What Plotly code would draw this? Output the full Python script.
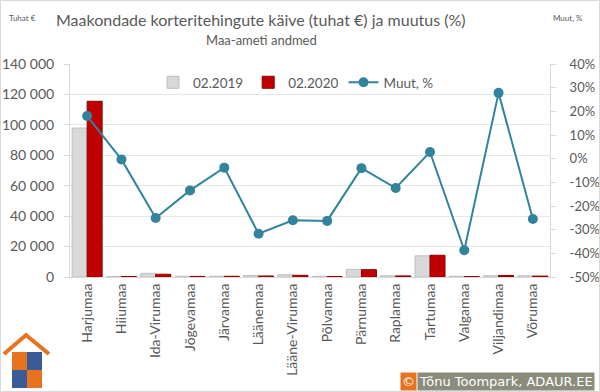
import plotly.graph_objects as go

categories = ["Harjumaa", "Hiiumaa", "Ida-Virumaa", "Jõgevamaa", "Järvamaa", "Läänemaa",
              "Lääne-Virumaa", "Põlvamaa", "Pärnumaa", "Raplamaa", "Tartumaa", "Valgamaa",
              "Viljandimaa", "Võrumaa"]
v2019 = [97900, 300, 2400, 450, 500, 1000, 1500, 380, 5000, 800, 13900, 420, 800, 800]
v2020 = [115500, 300, 1800, 390, 480, 680, 1110, 280, 4800, 700, 14300, 260, 1020, 600]
muut = [18.0, -0.3, -25.1, -13.4, -3.8, -31.7, -26.0, -26.3, -4.0, -12.4, 2.8, -38.7, 27.8, -25.5]

left_ticks = [0, 20000, 40000, 60000, 80000, 100000, 120000, 140000]
right_ticks = [-50, -40, -30, -20, -10, 0, 10, 20, 30, 40]
right_text = [f"{t}%" for t in right_ticks]

FONT = "Lato"
GREY = "#595959"
W, H = 600, 392
L, R, T, B = 70, 50, 64, 115
PW, PH = W - L - R, H - T - B


def px(x):
    return (x - L) / PW


def py(y):
    return (H - B - y) / PH


fig = go.Figure()
fig.add_trace(go.Bar(x=categories, y=v2019, name="02.2019",
                     marker=dict(color="#D9D9D9", line=dict(color="#BFBFBF", width=1))))
fig.add_trace(go.Bar(x=categories, y=v2020, name="02.2020",
                     marker=dict(color="#C00000", line=dict(color="#8B0000", width=1))))
fig.add_trace(go.Scatter(x=categories, y=muut, name="Muut, %", yaxis="y2",
                         mode="lines+markers",
                         line=dict(color="#31849B", width=2),
                         marker=dict(color="#31849B", size=10)))

fig.update_layout(
    width=W, height=H,
    margin=dict(l=L, r=R, t=T, b=B, autoexpand=False),
    paper_bgcolor="white", plot_bgcolor="white",
    font=dict(family=FONT, color=GREY, size=13),
    separators=", ",
    barmode="group", bargap=0.125, bargroupgap=0.0,
    showlegend=True,
    legend=dict(orientation="h", x=px(296), xanchor="center", y=py(67), yanchor="top",
                bgcolor="rgba(0,0,0,0)", font=dict(size=13.5, color=GREY),
                itemwidth=30, traceorder="normal"),
    xaxis=dict(range=[-0.5, len(categories) - 0.5], tickangle=-90, showline=True,
               linecolor="#D9D9D9", ticks="",
               tickfont=dict(size=14, color=GREY), showgrid=False, automargin=False),
    yaxis=dict(range=[0, 140000], tickvals=left_ticks, tickformat=",d",
               showgrid=True, gridcolor="#E6E6E6", showline=True, linecolor="#D9D9D9",
               ticks="outside", ticklen=5, tickcolor="#D9D9D9", zeroline=False,
               tickfont=dict(size=14, color=GREY), ticklabelstandoff=7, automargin=False),
    yaxis2=dict(range=[-50, 40], overlaying="y", side="right", tickvals=right_ticks,
                ticktext=right_text, showgrid=False, showline=True, linecolor="#D9D9D9",
                ticks="outside", ticklen=5, tickcolor="#D9D9D9", zeroline=False,
                tickfont=dict(size=13, color=GREY), ticklabelstandoff=11, automargin=False),
)

ann = [
    dict(text="Maakondade korteritehingute käive (tuhat €) ja muutus (%)",
         x=px(261), y=py(19), font=dict(size=16, color=GREY)),
    dict(text="Maa-ameti andmed", x=px(261), y=py(40), font=dict(size=13, color=GREY)),
    dict(text="Tuhat €", x=px(22), y=py(18), font=dict(size=8, color=GREY)),
    dict(text="Muut, %", x=px(568), y=py(18), font=dict(size=8, color=GREY)),
    dict(text="Tõnu Toompark, ADAUR.EE", x=px(417), y=py(381), xanchor="left",
         font=dict(size=13, color="white", family="DejaVu Sans"),
         bgcolor="#8C8C7C", borderpad=1),
    dict(text="©", x=px(408), y=py(381), font=dict(size=13, color="white", family="DejaVu Sans"),
         bgcolor="#E8731E", borderpad=1),
]
for a in ann:
    a.setdefault("xanchor", "center")
    fig.add_annotation(xref="paper", yref="paper", yanchor="middle", showarrow=False, **a)

shapes = [
    dict(type="rect", x0=px(0.5), x1=px(599.5), y0=py(0.5), y1=py(391.5),
         line=dict(color="#D9D9D9", width=1)),
    # logo
    dict(type="path", path=f"M {px(4)} {py(354)} L {px(26)} {py(335)} L {px(49)} {py(354)}",
         line=dict(color="#E8731E", width=4)),
    dict(type="rect", x0=px(12), x1=px(27), y0=py(352), y1=py(370), fillcolor="#E8731E", line_width=0),
    dict(type="rect", x0=px(27), x1=px(42), y0=py(352), y1=py(370), fillcolor="#3B5A9A", line_width=0),
    dict(type="rect", x0=px(12), x1=px(27), y0=py(370), y1=py(388), fillcolor="#3B5A9A", line_width=0),
    dict(type="rect", x0=px(27), x1=px(42), y0=py(370), y1=py(388), fillcolor="#E8731E", line_width=0),
]
for s in shapes:
    fig.add_shape(xref="paper", yref="paper", layer="above", **s)

fig.write_html("out.html", config={"displayModeBar": False},
               post_script="document.body.style.margin='0';document.body.style.overflow='hidden';")
